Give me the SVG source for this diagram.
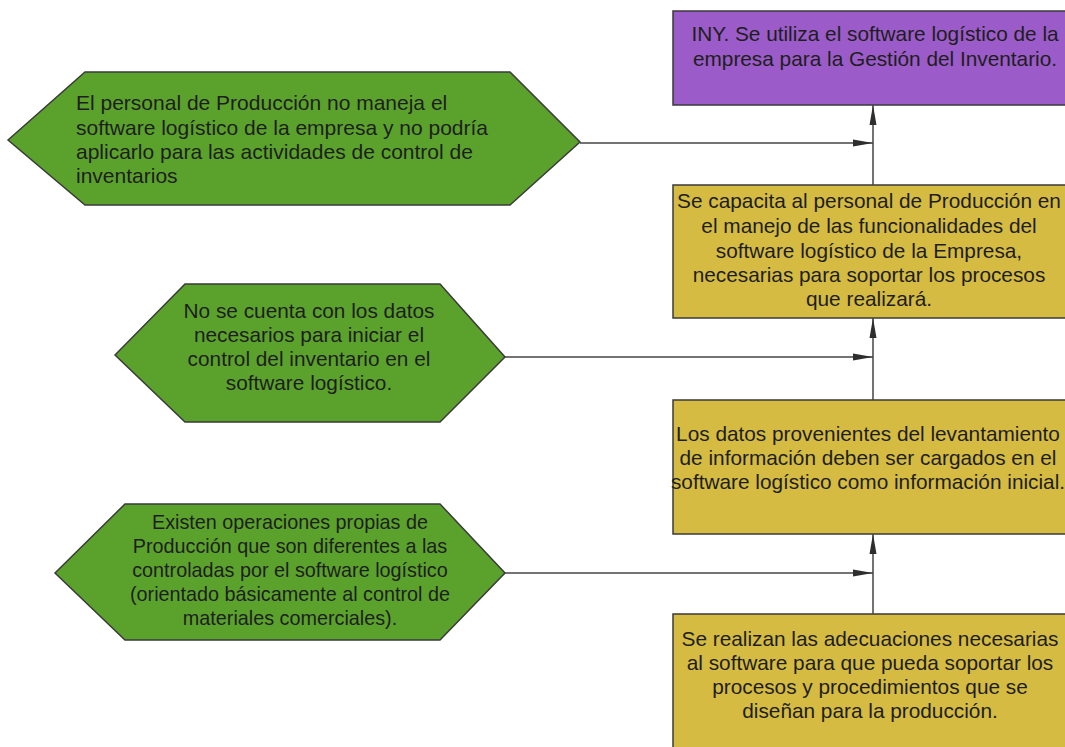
<svg xmlns="http://www.w3.org/2000/svg" width="1065" height="747" viewBox="0 0 1065 747">
<defs>
<style>
.hex{fill:#5ba22c;stroke:#3a3a3a;stroke-width:1.5}
.box{stroke:#3a3a3a;stroke-width:1.5}
.y{fill:#d5bb42}
.p{fill:#9b5bc8}
.t{font-family:"Liberation Sans",Arial,sans-serif;fill:#1e1e1e}
.b{font-size:20.8px}
.c{stroke:#444;stroke-width:1.5;fill:none}
</style>
<marker id="ah" viewBox="0 0 20 10" refX="20" refY="5" markerWidth="20" markerHeight="10" markerUnits="userSpaceOnUse" orient="auto">
<path d="M0,1.5 L20,5 L0,8.5 Z" fill="#2e2e2e"/>
</marker>
</defs>
<rect width="1065" height="747" fill="#fff"/>
<g id="n-purple">
<rect class="box p" x="673" y="11" width="400" height="94"/>
<text class="t" font-size="20.8" text-anchor="middle"><tspan x="875" y="41">INY. Se utiliza el software logístico de la</tspan><tspan x="875" y="66">empresa para la Gestión del Inventario.</tspan></text>
</g>
<g id="n-y1">
<rect class="box y" x="673" y="185" width="400" height="133"/>
<text class="t b" text-anchor="middle"><tspan x="869" y="208">Se capacita al personal de Producción en</tspan><tspan x="869" y="233">el manejo de las funcionalidades del</tspan><tspan x="869" y="258">software logístico de la Empresa,</tspan><tspan x="869" y="282">necesarias para soportar los procesos</tspan><tspan x="869" y="306">que realizará.</tspan></text>
</g>
<g id="n-y2">
<rect class="box y" x="673" y="400" width="400" height="134"/>
<text class="t b" text-anchor="middle"><tspan x="868" y="441">Los datos provenientes del levantamiento</tspan><tspan x="868" y="465">de información deben ser cargados en el</tspan><tspan x="868" y="489">software logístico como información inicial.</tspan></text>
</g>
<g id="n-y3">
<rect class="box y" x="673" y="614" width="400" height="140"/>
<text class="t b" text-anchor="middle"><tspan x="870" y="646">Se realizan las adecuaciones necesarias</tspan><tspan x="870" y="670">al software para que pueda soportar los</tspan><tspan x="870" y="694">procesos y procedimientos que se</tspan><tspan x="870" y="718">diseñan para la producción.</tspan></text>
</g>
<g id="n-h1">
<polygon class="hex" points="8,140 85,72 510,72 580,142 510,205 85,205"/>
<text class="t" font-size="21"><tspan x="76" y="110">El personal de Producción no maneja el</tspan><tspan x="76" y="135">software logístico de la empresa y no podría</tspan><tspan x="76" y="159">aplicarlo para las actividades de control de</tspan><tspan x="76" y="183">inventarios</tspan></text>
</g>
<g id="n-h2">
<polygon class="hex" points="115,355 185,284 440,284 505,357 440,422 185,422"/>
<text class="t" font-size="20.8" text-anchor="middle"><tspan x="309" y="318">No se cuenta con los datos</tspan><tspan x="309" y="342">necesarios para iniciar el</tspan><tspan x="309" y="366">control del inventario en el</tspan><tspan x="309" y="390">software logístico.</tspan></text>
</g>
<g id="n-h3">
<polygon class="hex" points="55,573 125,504 440,504 505,573 440,640 125,640"/>
<text class="t" font-size="19.8" text-anchor="middle"><tspan x="290" y="529">Existen operaciones propias de</tspan><tspan x="290" y="553">Producción que son diferentes a las</tspan><tspan x="290" y="577">controladas por el software logístico</tspan><tspan x="290" y="601">(orientado básicamente al control de</tspan><tspan x="290" y="625">materiales comerciales).</tspan></text>
</g>
<g id="connectors">
<path class="c" d="M873,185 V105" marker-end="url(#ah)"/>
<path class="c" d="M580,143 H873" marker-end="url(#ah)"/>
<path class="c" d="M873,400 V318" marker-end="url(#ah)"/>
<path class="c" d="M505,357 H873" marker-end="url(#ah)"/>
<path class="c" d="M873,614 V534" marker-end="url(#ah)"/>
<path class="c" d="M505,573 H873" marker-end="url(#ah)"/>
</g>
</svg>
